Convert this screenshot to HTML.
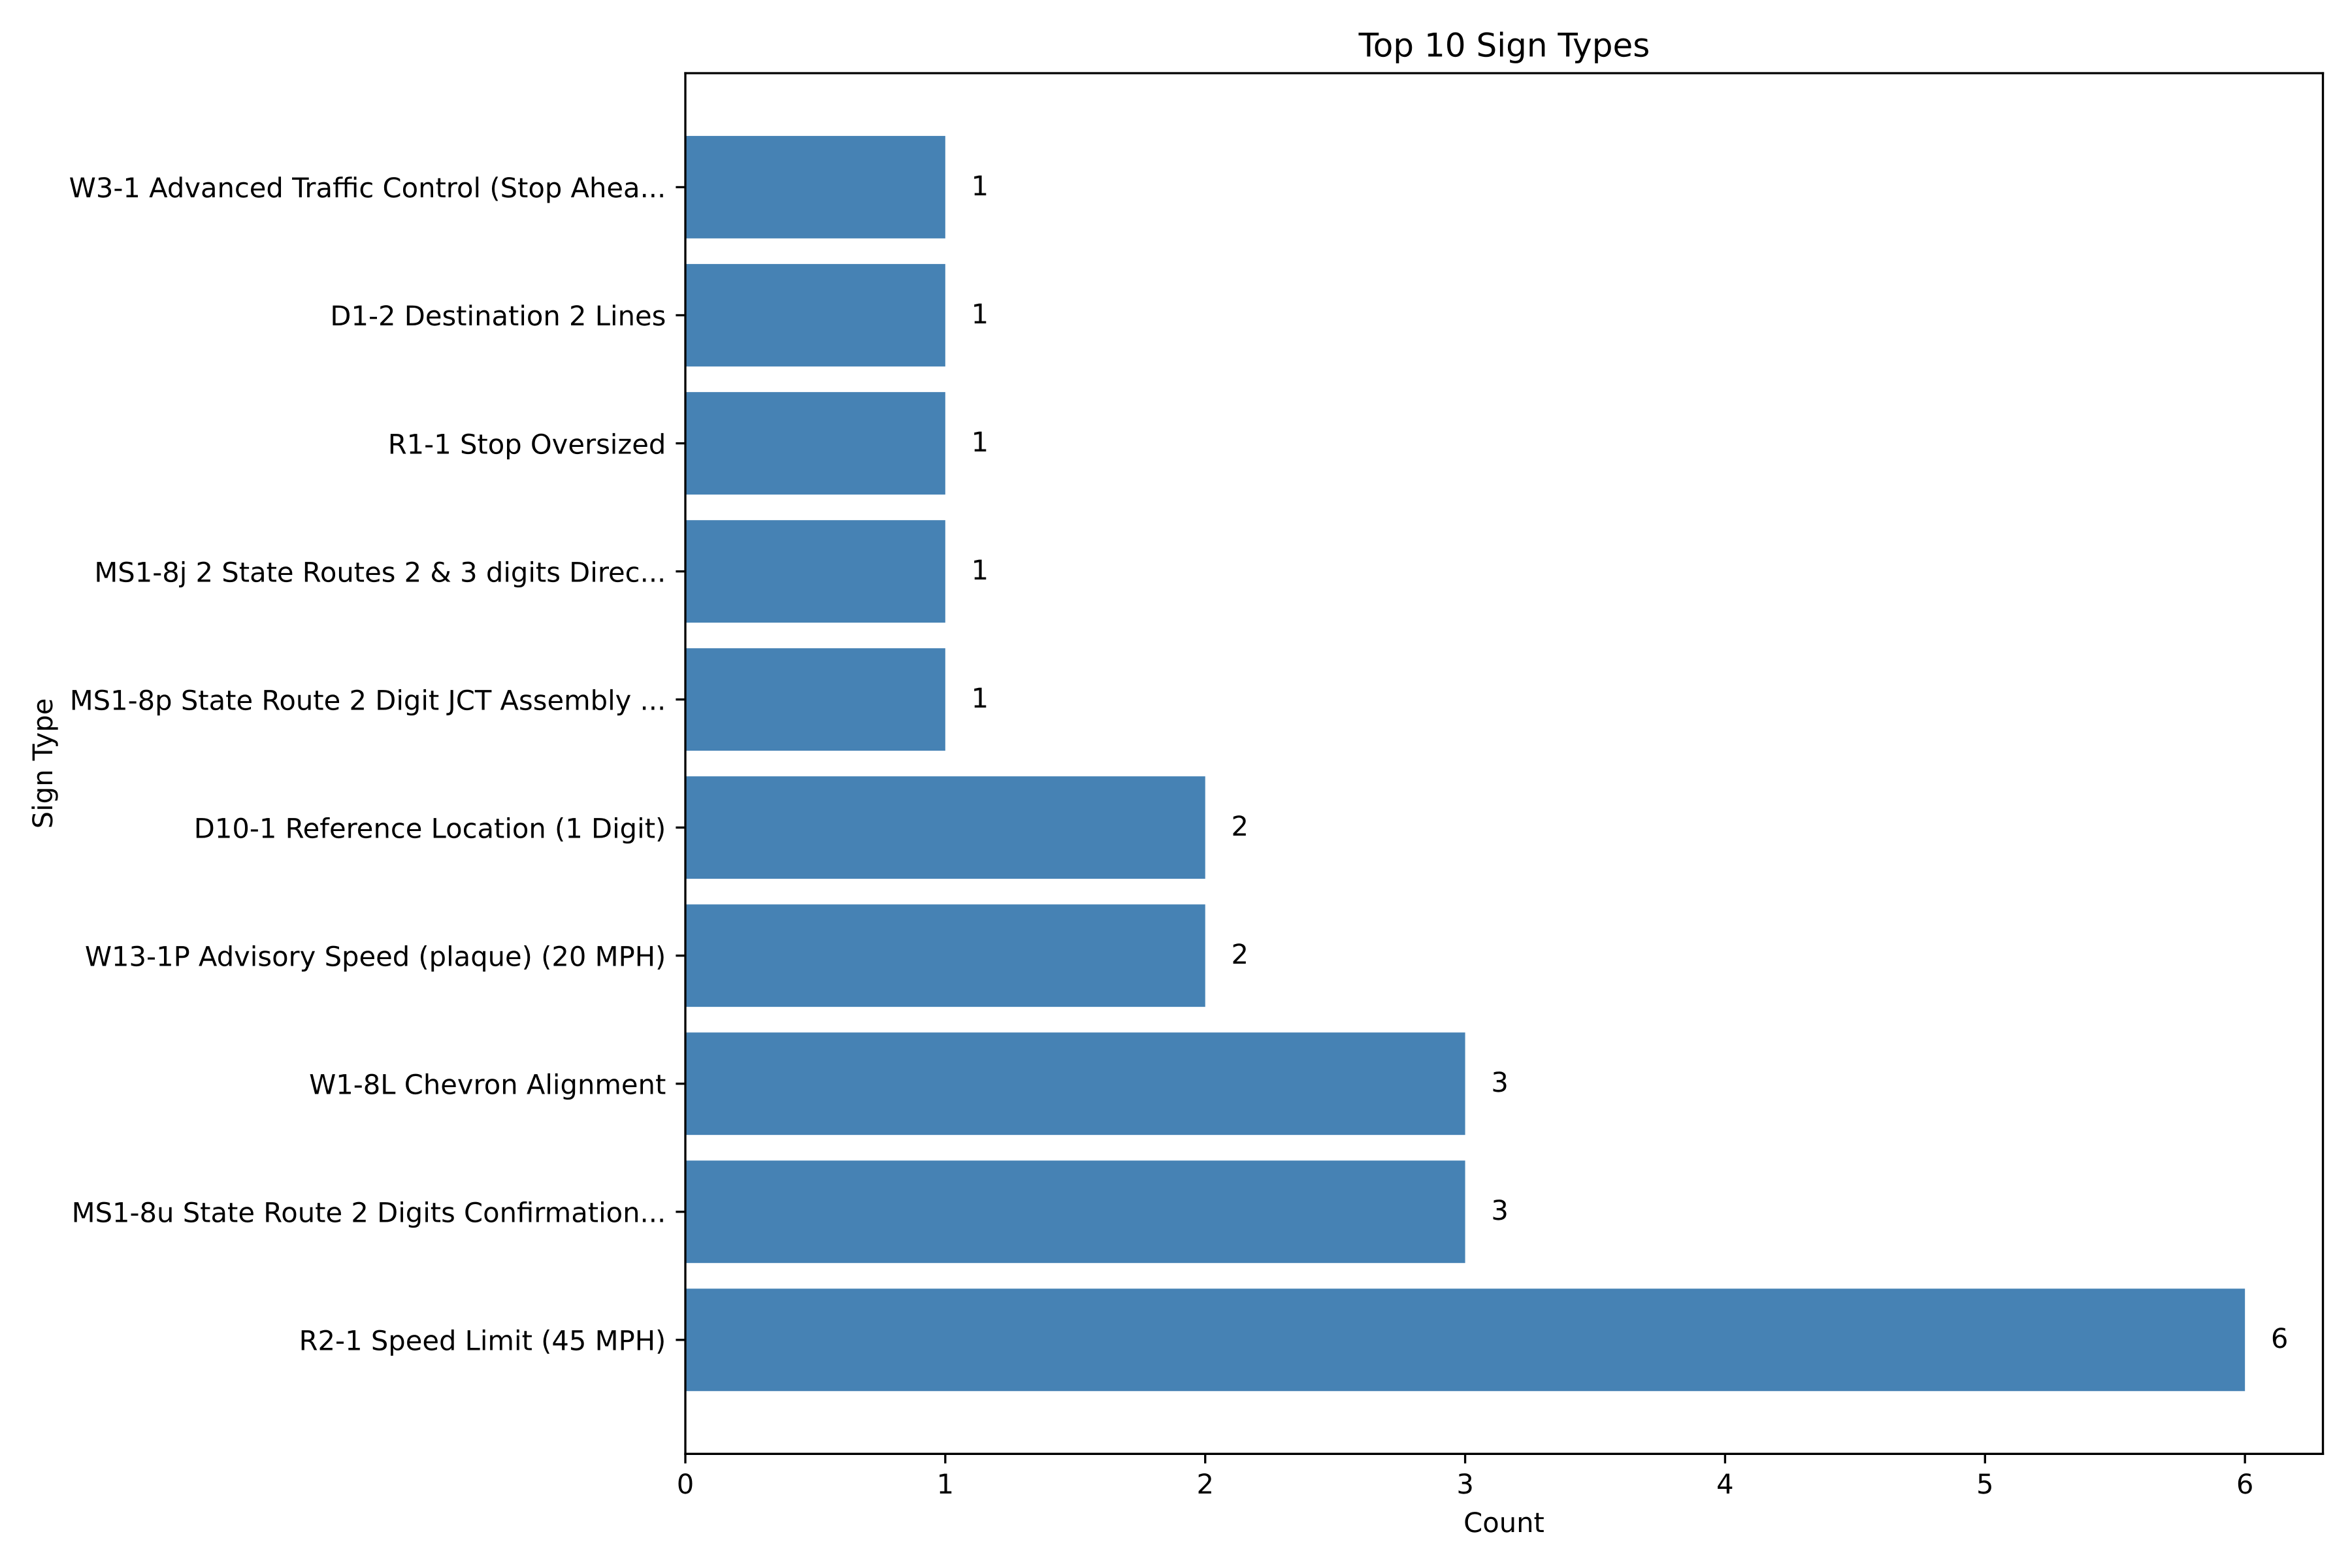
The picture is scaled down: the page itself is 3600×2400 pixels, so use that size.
<!DOCTYPE html>
<html lang="en">
<head>
<meta charset="utf-8">
<title>Top 10 Sign Types</title>
<style>
html,body{margin:0;padding:0;background:#fff;width:3600px;height:2400px;overflow:hidden}
svg{display:block}
text{font-family:"DejaVu Sans","Liberation Sans",sans-serif;fill:#000;text-rendering:geometricPrecision;font-kerning:normal}
</style>
</head>
<body>
<svg id="chart" xmlns="http://www.w3.org/2000/svg" width="3600" height="2400" viewBox="0 0 3600 2400">
  <rect x="0" y="0" width="3600" height="2400" fill="#ffffff"/>
  <text x="2302.5" y="86.7" font-size="50" text-anchor="middle">Top 10 Sign Types</text>
  <text x="2302" y="2345" font-size="41.67" text-anchor="middle">Count</text>
  <text transform="translate(80 1168.5) rotate(-90)" font-size="41.67" text-anchor="middle">Sign Type</text>
  <g id="bars"></g>
  <g id="value-labels"></g>
  <g id="x-axis"></g>
  <g id="y-axis"></g>
  <g id="spines" stroke="#000" stroke-width="3.33" stroke-linecap="square" fill="none">
    <line x1="1049" y1="112" x2="1049" y2="2225.3"/>
    <line x1="1049" y1="2225.3" x2="3555.5" y2="2225.3"/>
    <line x1="3555.5" y1="112" x2="3555.5" y2="2225.3"/>
    <line x1="1049" y1="112" x2="3555.5" y2="112"/>
  </g>
</svg>
<script>
const categories = [
  "R2-1 Speed Limit (45 MPH)",
  "MS1-8u State Route 2 Digits Confirmation...",
  "W1-8L Chevron Alignment",
  "W13-1P Advisory Speed (plaque) (20 MPH)",
  "D10-1 Reference Location (1 Digit)",
  "MS1-8p State Route 2 Digit JCT Assembly ...",
  "MS1-8j 2 State Routes 2 & 3 digits Direc...",
  "R1-1 Stop Oversized",
  "D1-2 Destination 2 Lines",
  "W3-1 Advanced Traffic Control (Stop Ahea..."
];
const counts = [6, 3, 3, 2, 2, 1, 1, 1, 1, 1];
const xTickValues = [0, 1, 2, 3, 4, 5, 6];

const NS = "http://www.w3.org/2000/svg";
const plotLeft = 1049, plotRight = 3555.5, plotTop = 112, plotBottom = 2225.3;
const xMin = 0, xMax = 6.3, yMin = -0.89, yMax = 9.89;
const barThickness = 0.8, labelOffset = 0.1;
function xScale(v) { return plotLeft + (v - xMin) / (xMax - xMin) * (plotRight - plotLeft); }
function yScale(i) { return plotBottom - (i - yMin) / (yMax - yMin) * (plotBottom - plotTop); }
function slug(s) { return s.toLowerCase().replace(/[^a-z0-9]+/g, '-').replace(/^-|-$/g, ''); }
function make(tag, attrs, parent) {
  const el = document.createElementNS(NS, tag);
  for (const k in attrs) el.setAttribute(k, attrs[k]);
  parent.appendChild(el);
  return el;
}
const barsG = document.getElementById('bars');
const valuesG = document.getElementById('value-labels');
const xG = document.getElementById('x-axis');
const yG = document.getElementById('y-axis');

categories.forEach(function (cat, i) {
  const yTop = yScale(i + barThickness / 2);
  const yBot = yScale(i - barThickness / 2);
  const bar = make('rect', { x: xScale(0), y: yTop, width: xScale(counts[i]) - xScale(0), height: yBot - yTop, fill: '#4682B4' }, barsG);
  
  

  const val = make('text', { x: xScale(counts[i] + labelOffset), y: yScale(i) + 12.3, 'font-size': 41.67 }, valuesG);
  val.textContent = String(counts[i]);
  
  

  const tick = make('line', { x1: plotLeft, x2: plotLeft - 14.6, y1: yScale(i), y2: yScale(i), stroke: '#000', 'stroke-width': 3.33 }, yG);
  
  

  const lab = make('text', { x: plotLeft - 29.7, y: yScale(i) + 15.7, 'font-size': 41.67, 'text-anchor': 'end' }, yG);
  lab.textContent = cat;
  
  
});

xTickValues.forEach(function (v) {
  const tick = make('line', { x1: xScale(v), x2: xScale(v), y1: plotBottom, y2: plotBottom + 14.6, stroke: '#000', 'stroke-width': 3.33 }, xG);
  
  

  const lab = make('text', { x: xScale(v), y: 2286, 'font-size': 41.67, 'text-anchor': 'middle' }, xG);
  lab.textContent = String(v);
  
  
});
</script>
</body>
</html>
